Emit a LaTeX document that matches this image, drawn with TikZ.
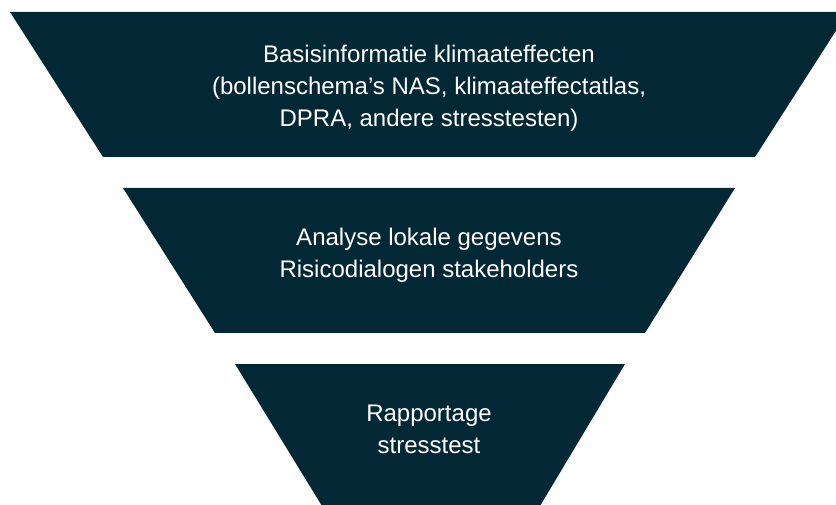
\documentclass[tikz,border=0pt]{standalone}
\usepackage{fontspec}
\setmainfont{Liberation Sans}
\usepackage{tikz}
\definecolor{funneldark}{HTML}{022835}
\tikzset{
  funnel/.style={fill=funneldark, draw=none},
  funneltext/.style={text=white, align=center, font=\fontsize{24}{32}\selectfont, inner sep=0pt}
}

\begin{document}
\begin{tikzpicture}[x=1pt, y=-1pt]
		%%%%% START %%%%%
		\useasboundingbox (0, 0) rectangle (836, 505);
		\clip (0, 0) rectangle (836, 505);
		
		\fill[funnel] (10, 12) -- (848, 12) -- (755, 157) -- (103, 157) -- cycle;
		\node[funneltext] (basis) at (429, 88) {Basisinformatie klimaateffecten\\(bollenschema's NAS, klimaateffectatlas,\\DPRA, andere stresstesten)};
		
		\fill[funnel] (123, 188) -- (735, 188) -- (645, 333) -- (215, 333) -- cycle;
		\node[funneltext] (analyse) at (429, 255) {Analyse lokale gegevens\\Risicodialogen stakeholders};
		
		\fill[funnel] (235, 364) -- (625, 364) -- (540, 506) -- (322, 506) -- cycle;
		\node[funneltext] (rapportage) at (429, 429) {Rapportage\\stresstest};
		
		%%%%% END %%%%%
	\end{tikzpicture}
\end{document}
